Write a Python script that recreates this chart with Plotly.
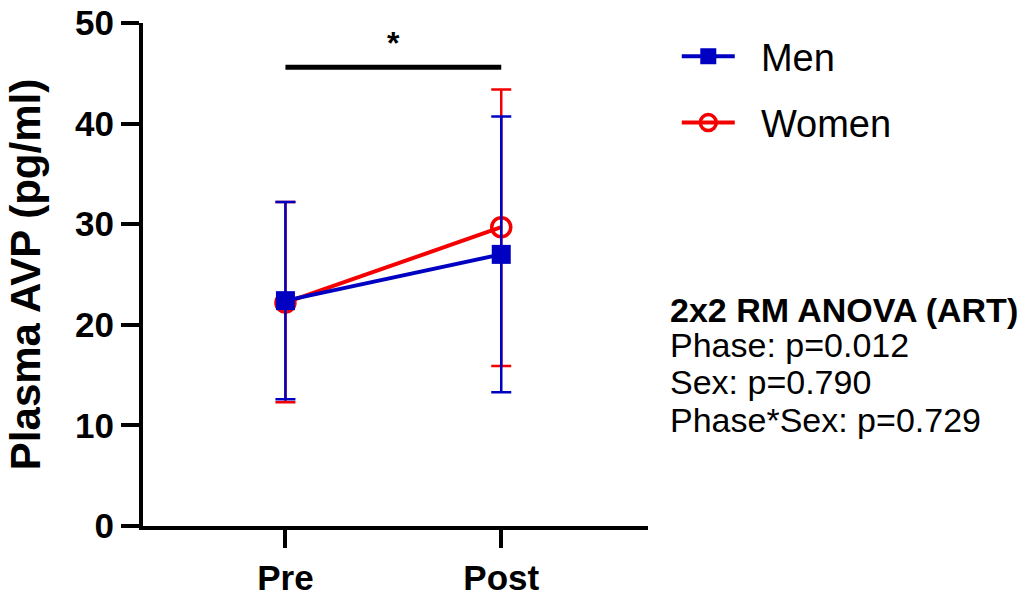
import plotly.graph_objects as go

phases = ["Pre", "Post"]
phase_pos = [0, 1]

men_mean = [22.4, 27.0]
men_upper = [32.2, 40.7]
men_lower = [12.6, 13.3]

women_mean = [22.2, 29.7]
women_upper = [32.2, 43.4]
women_lower = [12.3, 15.9]

sig_x = [0, 1]
sig_y = [45.6, 45.6]
sig_label = "*"

stats_title = "2x2 RM ANOVA (ART)"
stats_lines = ["Phase: p=0.012", "Sex: p=0.790", "Phase*Sex: p=0.729"]

BLUE = "rgb(0,0,195)"
RED = "rgb(245,0,0)"
FONT = "Liberation Sans, Arial, sans-serif"
GAP = "\u00a0\u00a0"

fig = go.Figure()

fig.add_trace(go.Scatter(
    x=phase_pos, y=women_mean, name=GAP + "Women", mode="lines+markers",
    line=dict(color=RED, width=4),
    marker=dict(symbol="circle-open", size=19, color=RED, line=dict(width=3.5, color=RED)),
    error_y=dict(type="data", symmetric=False,
                 array=[u - m for u, m in zip(women_upper, women_mean)],
                 arrayminus=[m - l for m, l in zip(women_mean, women_lower)],
                 color=RED, thickness=2.5, width=10),
    legendrank=2, legendgroup="w",
))

fig.add_trace(go.Scatter(
    x=phase_pos, y=men_mean, name=GAP + "Men", mode="lines+markers",
    line=dict(color=BLUE, width=4),
    marker=dict(symbol="square", size=19, color=BLUE),
    error_y=dict(type="data", symmetric=False,
                 array=[u - m for u, m in zip(men_upper, men_mean)],
                 arrayminus=[m - l for m, l in zip(men_mean, men_lower)],
                 color=BLUE, thickness=2.5, width=10),
    legendrank=1, legendgroup="m",
))

fig.add_trace(go.Scatter(
    x=sig_x, y=sig_y, mode="lines", line=dict(color="black", width=5),
    showlegend=False, hoverinfo="skip",
))

fig.add_annotation(x=sum(sig_x) / 2, y=sig_y[0] + 0.4, text="<b>" + sig_label + "</b>",
                   showarrow=False, xref="x", yref="y", yanchor="bottom",
                   font=dict(family=FONT, size=32, color="black"))

# stats block, one annotation per line for tighter line spacing
plot_top, plot_bottom = 23, 526
line_px = [310, 345, 382, 420]
for i, (txt, ypx) in enumerate(zip([stats_title] + stats_lines, line_px)):
    fig.add_annotation(
        x=1.04, y=(plot_bottom - ypx) / (plot_bottom - plot_top),
        xref="paper", yref="paper", xanchor="left", yanchor="middle",
        align="left", showarrow=False,
        text=("<b>" + txt + "</b>") if i == 0 else txt,
        font=dict(family=FONT, size=34, color="black"),
    )

fig.update_xaxes(
    range=[-0.66, 1.68], tickvals=phase_pos, ticktext=phases,
    showline=True, linecolor="black", linewidth=4,
    ticks="outside", ticklen=18, tickwidth=4, tickcolor="black",
    showgrid=False, zeroline=False, automargin=False,
    tickfont=dict(family=FONT, size=35, color="black", weight="bold"),
)
fig.update_yaxes(
    range=[0, 50], tickvals=[0, 10, 20, 30, 40, 50],
    showline=True, linecolor="black", linewidth=4,
    ticks="outside", ticklen=18, tickwidth=4, tickcolor="black",
    showgrid=False, zeroline=False, automargin=False,
    tickfont=dict(family=FONT, size=35, color="black", weight="bold"),
    title=dict(text="<b>Plasma AVP (pg/ml)</b>", standoff=22,
               font=dict(family=FONT, size=42, color="black")),
)

fig.update_layout(
    width=1035, height=596,
    margin=dict(l=143, r=387, t=23, b=70, autoexpand=False),
    plot_bgcolor="white", paper_bgcolor="white",
    showlegend=True,
    legend=dict(x=1.057, y=0.996, xanchor="left", yanchor="top",
                font=dict(family=FONT, size=38, color="black"),
                traceorder="grouped", tracegroupgap=14, itemwidth=53,
                bgcolor="rgba(0,0,0,0)"),
)

fig.write_html("out.html")
